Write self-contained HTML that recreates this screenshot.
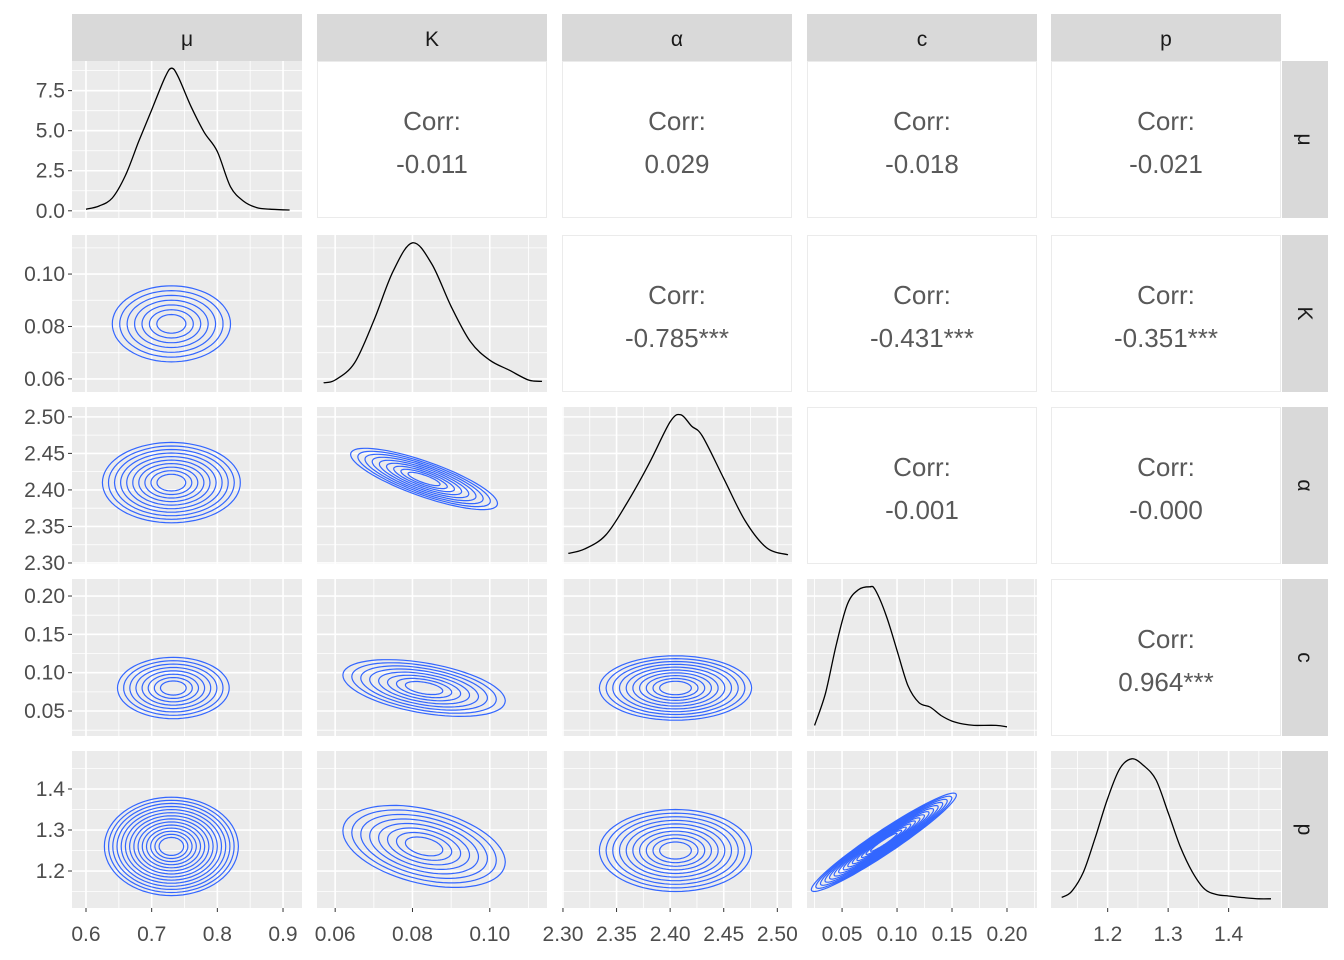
<!DOCTYPE html>
<html><head><meta charset="utf-8"><style>
body{margin:0;background:#fff;}
svg{display:block;font-family:"Liberation Sans",sans-serif;}
</style></head><body>
<svg id="chart" width="1344" height="960" viewBox="0 0 1344 960"></svg>
<script>
const vars = ["μ","K","α","c","p"];
const xTicks = [[0.6,0.7,0.8,0.9],[0.06,0.08,0.10],[2.30,2.35,2.40,2.45,2.50],[0.05,0.10,0.15,0.20],[1.2,1.3,1.4]];
const xTickLabels = [["0.6","0.7","0.8","0.9"],["0.06","0.08","0.10"],["2.30","2.35","2.40","2.45","2.50"],["0.05","0.10","0.15","0.20"],["1.2","1.3","1.4"]];
const xDomains = [[0.5787,0.9289],[0.0553,0.1148],[2.2991,2.5137],[0.0181,0.2273],[1.1063,1.4866]];
const yTicks = [[0,2.5,5.0,7.5],[0.06,0.08,0.10],[2.30,2.35,2.40,2.45,2.50],[0.05,0.10,0.15,0.20],[1.2,1.3,1.4]];
const yTickLabels = [["0.0","2.5","5.0","7.5"],["0.06","0.08","0.10"],["2.30","2.35","2.40","2.45","2.50"],["0.05","0.10","0.15","0.20"],["1.2","1.3","1.4"]];
const yDomains=[[-0.45,9.35],[0.0550,0.1149],[2.2986,2.5135],[0.0174,0.2222],[1.1098,1.4927]];
const correlations = [["-0.011","0.029","-0.018","-0.021"],["-0.785***","-0.431***","-0.351***"],["-0.001","-0.000"],["0.964***"]];
const densMuX=[0.60,0.62,0.64,0.66,0.68,0.70,0.72,0.73,0.74,0.76,0.78,0.80,0.82,0.84,0.86,0.88,0.91];
const densMuY=[0.1,0.3,0.8,2.2,4.3,6.3,8.3,8.9,8.4,6.5,4.9,3.7,1.5,0.6,0.2,0.1,0.05];
const densKX=[0.057,0.06,0.065,0.07,0.075,0.08,0.085,0.09,0.095,0.10,0.105,0.11,0.1135];
const densKY=[0.01,0.03,0.15,0.45,0.8,1.0,0.85,0.55,0.3,0.17,0.1,0.03,0.02];
const densAX=[2.305,2.32,2.34,2.36,2.38,2.40,2.41,2.42,2.43,2.45,2.47,2.49,2.51];
const densAY=[0.02,0.05,0.15,0.38,0.65,0.95,1.0,0.92,0.85,0.55,0.25,0.06,0.01];
const densCX=[0.025,0.035,0.045,0.055,0.065,0.075,0.08,0.09,0.10,0.11,0.12,0.13,0.14,0.15,0.16,0.17,0.19,0.2];
const densCY=[0.02,0.25,0.6,0.88,0.98,1.0,0.98,0.8,0.55,0.3,0.18,0.15,0.09,0.05,0.03,0.02,0.02,0.01];
const densPX=[1.124,1.14,1.16,1.18,1.20,1.22,1.24,1.26,1.28,1.30,1.32,1.34,1.36,1.38,1.40,1.42,1.45,1.47];
const densPY=[0.02,0.06,0.2,0.45,0.72,0.93,1.0,0.95,0.85,0.62,0.38,0.2,0.08,0.04,0.03,0.02,0.01,0.01];
const contourRows=[1,2,2,3,3,3,4,4,4,4];
const contourCols=[0,0,1,0,1,2,0,1,2,3];
const contourCX=[0.73,0.73,0.083,0.733,0.083,2.405,0.73,0.083,2.405,0.088];
const contourCY=[0.081,2.41,2.415,0.08,0.08,0.08,1.26,1.26,1.25,1.27];
const contourHX=[0.09,0.105,0.019,0.085,0.021,0.071,0.102,0.021,0.071,0.066];
const contourHY=[0.0145,0.055,0.042,0.04,0.037,0.042,0.12,0.1,0.1,0.12];
const contourRho=[0,0,-0.8,0,-0.45,0,0,-0.38,0,0.96];
const contourLevels=[7,10,9,8,8,10,14,8,10,14];

const NS="http://www.w3.org/2000/svg";
const svg=document.getElementById('chart');
function mk(tag,attrs,parent){const e=document.createElementNS(NS,tag);for(const k in attrs)e.setAttribute(k,attrs[k]);(parent||svg).appendChild(e);return e;}
const colL=[72,317,562,807,1051], pw=230;
const rowT=[61,235,407,579,751], ph=157;
function sx(c,v){const d=xDomains[c];return colL[c]+(v-d[0])/(d[1]-d[0])*pw;}
function sy(r,v){const d=yDomains[r];return rowT[r]+ph-(v-d[0])/(d[1]-d[0])*ph;}
function syDiag(r,v){return rowT[r]+ph-7.8-v*(ph-15.6);}
function smooth(p){let d='M'+p[0][0].toFixed(1)+','+p[0][1].toFixed(1);
  for(let i=0;i<p.length-1;i++){const p0=p[i-1]||p[i],p1=p[i],p2=p[i+1],p3=p[i+2]||p2;
    const c1=[p1[0]+(p2[0]-p0[0])/6,p1[1]+(p2[1]-p0[1])/6],c2=[p2[0]-(p3[0]-p1[0])/6,p2[1]-(p3[1]-p1[1])/6];
    d+='C'+c1.map(v=>v.toFixed(1)).join(',')+' '+c2.map(v=>v.toFixed(1)).join(',')+' '+p2[0].toFixed(1)+','+p2[1].toFixed(1);}
  return d;}

for(let i=0;i<5;i++){
  const s=mk('rect',{x:colL[i],y:14,width:pw,height:47,fill:'#d9d9d9'});
  
  const t=mk('text',{x:colL[i]+pw/2,y:46,'text-anchor':'middle','font-size':21,fill:'#1a1a1a'});t.textContent=vars[i];
  
  const r=mk('rect',{x:1282,y:rowT[i],width:46,height:ph,fill:'#d9d9d9'});
  
  const cx=1305,cy=rowT[i]+ph/2;
  const t2=mk('text',{x:cx,y:cy+7,'text-anchor':'middle','font-size':21,fill:'#1a1a1a',transform:`rotate(90 ${cx} ${cy})`});t2.textContent=vars[i];
  
}
for(let r=0;r<5;r++)for(let c=0;c<5;c++){
  const x=colL[c],y=rowT[r];
  if(c>r){
    const b=mk('rect',{x:x+0.5,y:y+0.5,width:pw-1,height:ph-1,fill:'#fff',stroke:'#ebebeb'});
    
    const t1=mk('text',{x:x+pw/2,y:y+69,'text-anchor':'middle','font-size':26,fill:'#595959'});t1.textContent='Corr:';
    
    const t2=mk('text',{x:x+pw/2,y:y+112,'text-anchor':'middle','font-size':26,fill:'#595959'});t2.textContent=correlations[r][c-r-1];
    
    continue;
  }
  const b=mk('rect',{x:x,y:y,width:pw,height:ph,fill:'#ebebeb'});
  
  const xt=xTicks[c];const step=xt[1]-xt[0];
  for(let k=-1;k<xt.length;k++){const v=xt[0]+(k+0.5)*step;const px=sx(c,v);if(px>x&&px<x+pw)mk('line',{x1:px,x2:px,y1:y,y2:y+ph,stroke:'#fff','stroke-width':0.8});}
  xt.forEach(v=>{const px=sx(c,v);if(px>=x&&px<=x+pw)mk('line',{x1:px,x2:px,y1:y,y2:y+ph,stroke:'#fff','stroke-width':1.6});});
  const yt=yTicks[r];const ys=yt[1]-yt[0];
  for(let k=-1;k<yt.length;k++){const v=yt[0]+(k+0.5)*ys;const py=sy(r,v);if(py>y&&py<y+ph)mk('line',{x1:x,x2:x+pw,y1:py,y2:py,stroke:'#fff','stroke-width':0.8});}
  yt.forEach(v=>{const py=sy(r,v);if(py>=y&&py<=y+ph)mk('line',{x1:x,x2:x+pw,y1:py,y2:py,stroke:'#fff','stroke-width':1.6});});
}
const dens=[[densMuX,densMuY],[densKX,densKY],[densAX,densAY],[densCX,densCY],[densPX,densPY]];
dens.forEach((d,i)=>{
  const pts=d[0].map((v,j)=>[sx(i,v),(i===0?sy(0,d[1][j]):syDiag(i,d[1][j]))]);
  const p=mk('path',{d:smooth(pts),fill:'none',stroke:'#000','stroke-width':1.3,'stroke-linejoin':'round'});
  
});
for(let k=0;k<contourRows.length;k++){
  const r=contourRows[k],c=contourCols[k],n=contourLevels[k],rho=contourRho[k];
  const g=mk('g',{});
  
  for(let l=1;l<=n;l++){
    const s=0.12+0.88*l/n;let d='';
    for(let a=0;a<=72;a++){const t=a/72*2*Math.PI;const u=Math.cos(t),v=rho*Math.cos(t)+Math.sqrt(1-rho*rho)*Math.sin(t);
      const px=sx(c,contourCX[k]+contourHX[k]*u*s),py=sy(r,contourCY[k]+contourHY[k]*v*s);
      d+=(a?'L':'M')+px.toFixed(1)+','+py.toFixed(1);}
    mk('path',{d:d+'Z',fill:'none',stroke:'#3366ff','stroke-width':1.2},g);
  }
}
for(let c=0;c<5;c++){xTicks[c].forEach((v,j)=>{const px=sx(c,v);
  mk('line',{x1:px,x2:px,y1:908,y2:912,stroke:'#333','stroke-width':1});
  const t=mk('text',{x:px,y:941,'text-anchor':'middle','font-size':21,fill:'#4d4d4d'});t.textContent=xTickLabels[c][j];
  });}
for(let r=0;r<5;r++){yTicks[r].forEach((v,j)=>{const py=sy(r,v);
  mk('line',{x1:68,x2:72,y1:py,y2:py,stroke:'#333','stroke-width':1});
  const t=mk('text',{x:65,y:py+7,'text-anchor':'end','font-size':21,fill:'#4d4d4d'});t.textContent=yTickLabels[r][j];
  });}
</script>
</body></html>
